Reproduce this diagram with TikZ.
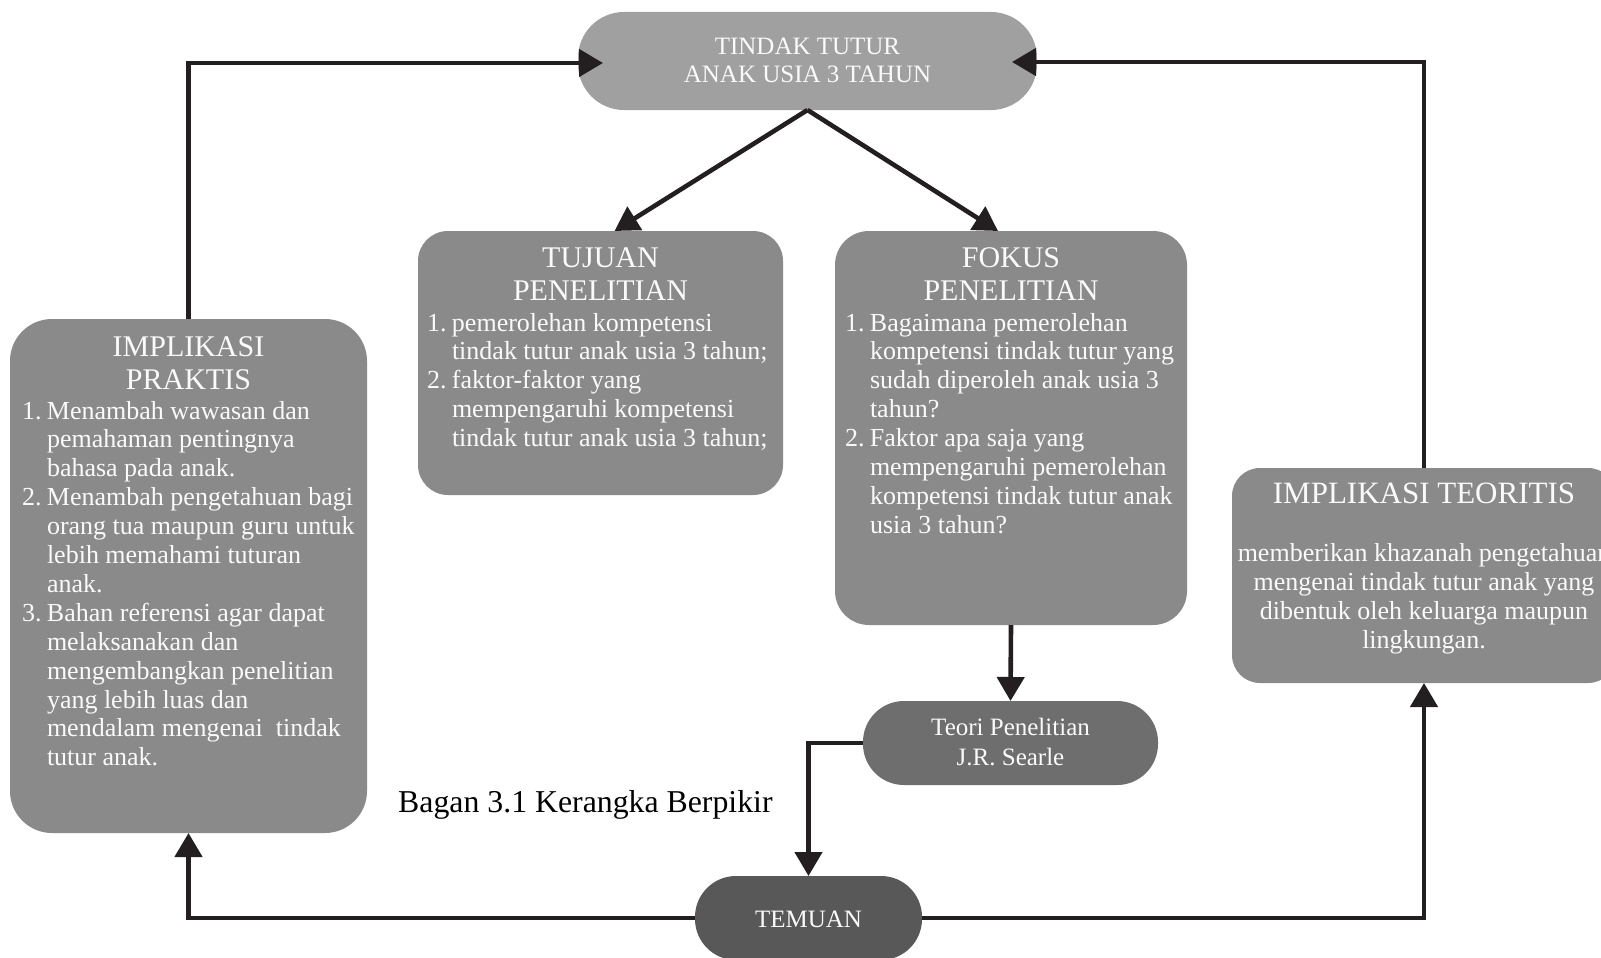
\documentclass[tikz,border=0pt]{standalone}
\usepackage{fontspec}
\setmainfont{Liberation Serif}
\usetikzlibrary{arrows.meta}
\definecolor{lncol}{HTML}{231F20}
\definecolor{cTop}{HTML}{A0A0A0}
\definecolor{cBox}{HTML}{8A8A8A}
\definecolor{cTeori}{HTML}{6E6E6E}
\definecolor{cTemu}{HTML}{585858}
\definecolor{txtw}{HTML}{FAFAFA}
\newcommand{\fsz}[2]{\fontsize{#1pt}{#2pt}\selectfont}
\newcommand{\nm}[1]{\makebox[25pt][l]{#1}}
\newcommand{\ind}{\hspace*{25pt}}
\begin{document}
\begin{tikzpicture}[x=1pt,y=-1pt,
  boxshape/.style={fill=#1, draw=none, inner sep=0pt, outer sep=0pt},
  txt/.style={text=txtw, inner sep=0pt, outer sep=0pt},
  conn/.style={draw=lncol, line width=4.6pt, -{Triangle[length=24pt,width=27pt]}}]
\useasboundingbox (0,0) rectangle (1601,958);
\fill[white] (0,0) rectangle (1601,958);

% boxes
\node[boxshape=cTop, minimum width=459pt, minimum height=98pt, rounded corners=46pt] (tindak) at (807.5,61) {};
\node[boxshape=cBox, minimum width=365pt, minimum height=264pt, rounded corners=30pt] (tujuan) at (600.5,363) {};
\node[boxshape=cBox, minimum width=352pt, minimum height=394pt, rounded corners=34pt] (fokus) at (1011,428) {};
\node[boxshape=cBox, minimum width=357pt, minimum height=514pt, rounded corners=42pt] (praktis) at (188.5,576) {};
\node[boxshape=cBox, minimum width=384pt, minimum height=215pt, rounded corners=28pt] (teoritis) at (1424,575.5) {};
\node[boxshape=cTeori, minimum width=295pt, minimum height=84pt, rounded corners=41pt] (teori) at (1010.5,743) {};
\node[boxshape=cTemu, minimum width=227pt, minimum height=84pt, rounded corners=41pt] (temuan) at (808.5,918) {};

% texts
\node[txt, anchor=base] (tindakT) at (807.5,55) {\parbox[t]{420pt}{\centering\fsz{25}{28}TINDAK TUTUR\\ANAK USIA 3 TAHUN}};

\node[txt, anchor=base] (tujuanH) at (600.5,267) {\parbox[t]{340pt}{\centering\fsz{30}{33}TUJUAN\\PENELITIAN}};
\node[txt, anchor=base west] (tujuanL) at (427,331) {\parbox[t]{400pt}{\raggedright\fsz{26}{28.8}%
\nm{1.}pemerolehan kompetensi\\
\ind tindak tutur anak usia 3 tahun;\\
\nm{2.}faktor-faktor yang\\
\ind mempengaruhi kompetensi\\
\ind tindak tutur anak usia 3 tahun;}};

\node[txt, anchor=base] (fokusH) at (1011,267) {\parbox[t]{340pt}{\centering\fsz{30}{33}FOKUS\\PENELITIAN}};
\node[txt, anchor=base west] (fokusL) at (845,331) {\parbox[t]{400pt}{\raggedright\fsz{26}{28.9}%
\nm{1.}Bagaimana pemerolehan\\
\ind kompetensi tindak tutur yang\\
\ind sudah diperoleh anak usia 3\\
\ind tahun?\\
\nm{2.}Faktor apa saja yang\\
\ind mempengaruhi pemerolehan\\
\ind kompetensi tindak tutur anak\\
\ind usia 3 tahun?}};

\node[txt, anchor=base] (praktisH) at (188.5,356) {\parbox[t]{340pt}{\centering\fsz{30}{33}IMPLIKASI\\PRAKTIS}};
\node[txt, anchor=base west] (praktisL) at (22,419) {\parbox[t]{400pt}{\raggedright\fsz{26}{28.9}%
\nm{1.}Menambah wawasan dan\\
\ind pemahaman pentingnya\\
\ind bahasa pada anak.\\
\nm{2.}Menambah pengetahuan bagi\\
\ind orang tua maupun guru untuk\\
\ind lebih memahami tuturan\\
\ind anak.\\
\nm{3.}Bahan referensi agar dapat\\
\ind melaksanakan dan\\
\ind mengembangkan penelitian\\
\ind yang lebih luas dan\\
\ind mendalam mengenai\ \ tindak\\
\ind tutur anak.}};

\node[txt, anchor=base] (teoritisH) at (1424,503) {\fsz{31}{34}IMPLIKASI TEORITIS};
\node[txt, anchor=base] (teoritisB) at (1424,561) {\parbox[t]{420pt}{\centering\fsz{26}{29.2}%
memberikan khazanah pengetahuan\\
mengenai tindak tutur anak yang\\
dibentuk oleh keluarga maupun\\
lingkungan.}};

\node[txt, anchor=base] (teoriT) at (1010.5,735) {\parbox[t]{280pt}{\centering\fsz{25}{30}Teori Penelitian\\J.R. Searle}};
\node[txt, anchor=base] (temuanT) at (808.5,927) {\fsz{25}{28}TEMUAN};

\node[inner sep=0pt, anchor=base west, text=black] (caption) at (398,812) {\fsz{31.8}{34}Bagan 3.1 Kerangka Berpikir};

% connectors
\draw[conn] (tindak.south) -- ([xshift=14pt]tujuan.north);
\draw[conn] (tindak.south) -- ([xshift=-13pt]fokus.north);
\draw[conn] (fokus.south) -- (teori.north);
\draw[conn] (teori.west) -| (temuan.north);
\draw[conn] (temuan.west) -| (praktis.south);
\draw[conn] (temuan.east) -| (teoritis.south);
\draw[conn] (praktis.north) |- ([xshift=25pt,yshift=-2pt]tindak.west);
\draw[conn] (teoritis.north) |- ([xshift=-25pt,yshift=-1pt]tindak.east);
\end{tikzpicture}
\end{document}
